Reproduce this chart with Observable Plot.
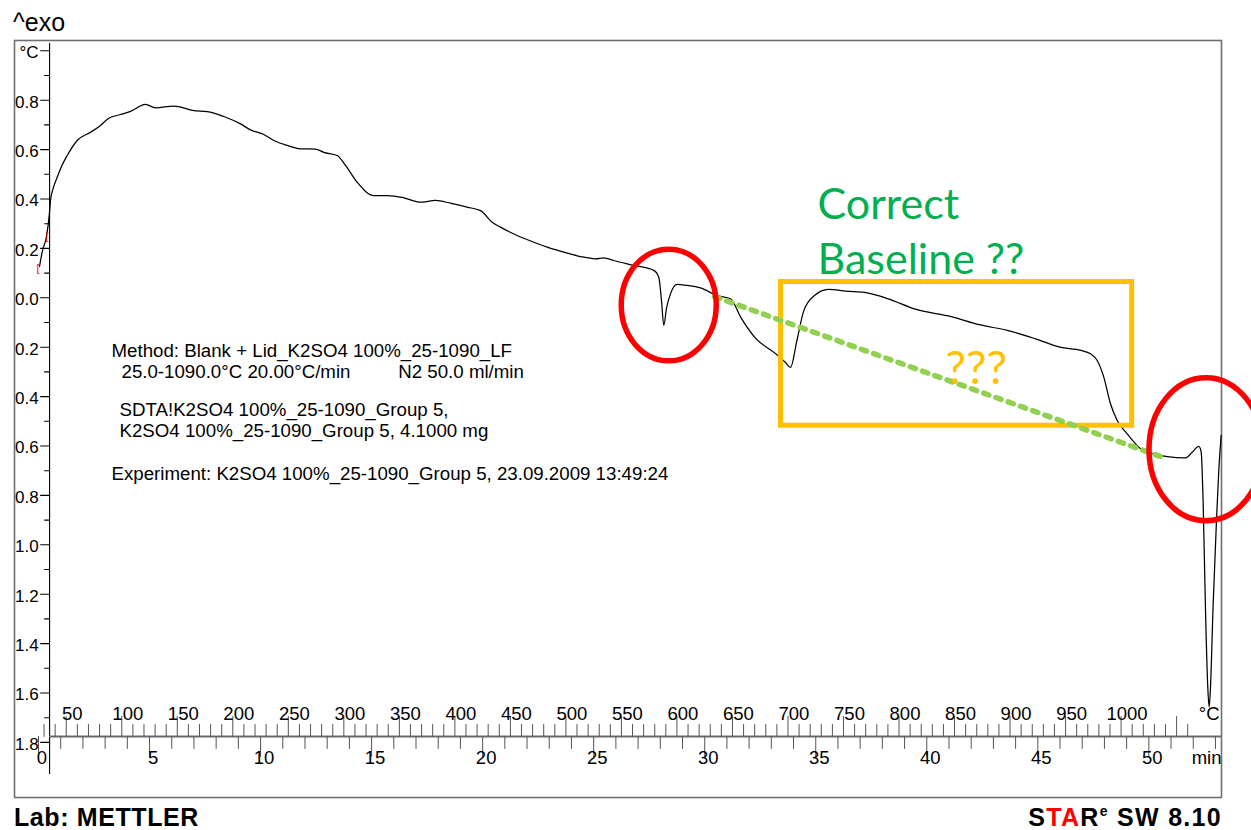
<!DOCTYPE html>
<html>
<head>
<meta charset="utf-8">
<script src="https://cdn.jsdelivr.net/npm/d3@7"></script>
<script src="https://cdn.jsdelivr.net/npm/@observablehq/plot@0.6"></script>
<style>
  html, body { margin: 0; padding: 0; background: #fff; overflow: hidden; }
  #wrap { position: relative; width: 1251px; height: 830px; font-family: "Liberation Sans", Arial, sans-serif; color: #000; }
  #title { position: absolute; left: 13px; top: 7px; font-size: 25px; line-height: 30px; }
  #chart { position: absolute; left: 0; top: 38px; }
  #lab { position: absolute; left: 14px; top: 806px; font-size: 25px; font-weight: bold; line-height: 22px; letter-spacing: 0.6px; }
  #star { position: absolute; right: 29px; top: 806px; font-size: 25px; font-weight: bold; line-height: 22px; letter-spacing: 1.3px; white-space: nowrap; }
  #star .r { color: #ff0000; }
  #star .e { font-size: 14px; position: relative; top: -10px; }
</style>
</head>
<body>
<div id="wrap">
  <div id="title">^exo</div>
  <div id="chart"></div>
  <div id="lab">Lab: METTLER</div>
  <div id="star">S<span class="r">TA</span>R<span class="e">e</span> SW 8.10</div>
</div>
<script>
// ---- measured curve (time in min, SDTA signal in °C) ----
const timeMin = [0.045,0.18,0.36,0.495,0.54,0.675,0.842,1.036,1.292,1.743,2.342,2.792,3.166,3.693,4.143,4.818,5.269,6.093,6.993,7.597,8.344,9.096,9.547,10.146,10.596,11.199,11.798,12.474,12.847,13.451,13.824,14.351,15.099,15.702,16.45,17.202,17.877,18.553,19.305,19.904,20.431,20.804,21.556,22.304,22.907,23.655,24.407,25.082,25.456,25.906,26.807,27.707,27.932,28.054,28.157,28.279,28.459,28.761,29.211,29.811,30.563,31.162,31.625,32.256,33.206,33.638,33.864,34.152,34.467,34.944,35.575,36.362,37.313,38.258,39.524,41.104,42.365,43.63,44.891,45.999,46.944,47.372,47.674,47.971,48.273,48.575,49.025,49.624,50.223,50.826,51.65,51.952,52.249,52.357,52.447,52.545,52.654,52.717,52.776,52.897,53.046,53.15,53.258];
const signal = [0.127,0.191,0.248,0.345,0.394,0.447,0.488,0.532,0.576,0.637,0.670,0.698,0.727,0.742,0.755,0.783,0.769,0.776,0.758,0.754,0.734,0.704,0.680,0.661,0.637,0.617,0.603,0.602,0.589,0.576,0.536,0.468,0.414,0.414,0.405,0.387,0.394,0.383,0.367,0.353,0.306,0.286,0.252,0.225,0.205,0.185,0.167,0.158,0.162,0.151,0.131,0.111,0.083,-0.011,-0.112,-0.043,0.016,0.054,0.050,0.040,0.009,-0.004,-0.079,-0.160,-0.227,-0.262,-0.282,-0.173,-0.051,0.009,0.034,0.027,0.020,-0.004,-0.047,-0.076,-0.109,-0.132,-0.166,-0.200,-0.213,-0.227,-0.254,-0.321,-0.429,-0.497,-0.551,-0.611,-0.632,-0.643,-0.648,-0.625,-0.602,-0.625,-0.834,-1.239,-1.577,-1.657,-1.577,-1.239,-0.902,-0.699,-0.557];

// ---- axes ----
const yMajorTicks = [1.0,0.8,0.6,0.4,0.2,0.0,-0.2,-0.4,-0.6,-0.8,-1.0,-1.2,-1.4,-1.6,-1.8];
const yMinorTicks = [0.9,0.7,0.5,0.3,0.1,-0.1,-0.3,-0.5,-0.7,-0.9,-1.1,-1.3,-1.5,-1.7];
const minuteTicks = [0,5,10,15,20,25,30,35,40,45,50];
const tempTicks = [50,100,150,200,250,300,350,400,450,500,550,600,650,700,750,800,850,900,950,1000];
const startTemp = 25;     // °C
const heatingRate = 20;   // °C/min

// ---- annotation text ----
const infoLines = [
  {text: "Method: Blank + Lid_K2SO4 100%_25-1090_LF", t: 3.287, v: -0.238},
  {text: "25.0-1090.0°C 20.00°C/min", t: 3.737, v: -0.323},
  {text: "N2 50.0 ml/min", t: 16.2, v: -0.323},
  {text: "SDTA!K2SO4 100%_25-1090_Group 5,", t: 3.648, v: -0.477},
  {text: "K2SO4 100%_25-1090_Group 5, 4.1000 mg", t: 3.648, v: -0.562},
  {text: "Experiment: K2SO4 100%_25-1090_Group 5, 23.09.2009 13:49:24", t: 3.287, v: -0.738}
];
const greenLabels = [
  {text: "Correct", t: 35.08, v: 0.321},
  {text: "Baseline ??", t: 35.08, v: 0.098}
];
const questionLabel = [{text: "???", t: 40.84, v: -0.351}];
const baselinePts = [{t: 30.44, v: 0.005}, {t: 50.66, v: -0.647}];
const regionBox = [{t1: 33.436, t2: 49.25, v1: 0.064, v2: -0.518}];
const ellipses = [
  {id: "a", t: 28.38, v: -0.029, rt: 2.139, rv: 0.226},
  {id: "b", t: 52.574, v: -0.613, rt: 2.567, rv: 0.2895}
];
const startMarkers = [{t: -0.023, v: 0.119}, {t: 0.383, v: 0.248}];

// ---- build ----
const curve = timeMin.map((t, i) => ({t, v: signal[i]}));
const ellipsePts = ellipses.flatMap(e => [
  {id: e.id, t: e.t, v: e.v + e.rv},
  {id: e.id, t: e.t + e.rt, v: e.v},
  {id: e.id, t: e.t, v: e.v - e.rv},
  {id: e.id, t: e.t - e.rt, v: e.v}
]);
const toMin = T => (T - startTemp) / heatingRate;
const minuteMinor = d3.range(0, 54, 1);
const tempMinor = d3.range(30, 1061, 10);

const Y_AXIS_T = 0.5;
const X_AXIS_V = -1.776;
const tickShape = {draw(ctx, l) { ctx.moveTo(0, 0); ctx.lineTo(0, -l); }};
const font = "Liberation Sans, Arial, sans-serif";

const chart = Plot.plot({
  width: 1251,
  height: 762,
  marginLeft: 14,
  marginRight: 30,
  marginTop: 2,
  marginBottom: 3,
  x: {domain: [-1.0807, 53.272], axis: null},
  y: {domain: [-2.0231, 1.0417], axis: null},
  style: {fontFamily: font, background: "white", color: "black", overflow: "visible"},
  marks: [
    Plot.frame({stroke: "#6f6f6f", strokeWidth: 1.6}),
    // vertical axis
    Plot.ruleX([Y_AXIS_T], {y1: 1.03, y2: -1.93, stroke: "#000", strokeWidth: 1.1}),
    Plot.vector(yMajorTicks, {x: () => Y_AXIS_T, y: d => d, length: 9, rotate: -90, anchor: "start", shape: tickShape, stroke: "#000", strokeWidth: 1.1}),
    Plot.vector(yMinorTicks, {x: () => Y_AXIS_T, y: d => d, length: 5, rotate: -90, anchor: "start", shape: tickShape, stroke: "#000", strokeWidth: 1.1}),
    Plot.text(yMajorTicks, {x: () => Y_AXIS_T, y: d => d, text: d => d === 1 ? "°C" : Math.abs(d).toFixed(1), textAnchor: "end", dx: -11, dy: 2, fontSize: 17, fill: "#000"}),
    // horizontal axis (min below, °C above)
    Plot.ruleY([X_AXIS_V], {x1: Y_AXIS_T, x2: 53.272, stroke: "#6a6a6a", strokeWidth: 2}),
    Plot.vector(minuteMinor, {x: d => d, y: () => X_AXIS_V, length: d => d % 5 === 0 ? 7.5 : 4.5, rotate: 180, anchor: "start", shape: tickShape, stroke: "#555", strokeWidth: 1}),
    Plot.vector(tempMinor, {x: d => toMin(d), y: () => X_AXIS_V, length: d => d % 50 === 0 ? 7.5 : 4.5, rotate: 0, anchor: "start", shape: tickShape, stroke: "#555", strokeWidth: 1}),
    Plot.text(minuteTicks, {x: d => d, y: () => X_AXIS_V, text: d => String(d), dx: 3.5, dy: 21.5, fontSize: 18.5, fill: "#000"}),
    Plot.text(tempTicks, {x: d => toMin(d), y: () => X_AXIS_V, text: d => String(d), dx: 6, dy: -22, fontSize: 18.5, fill: "#000"}),
    Plot.text(["°C"], {frameAnchor: "right", y: () => X_AXIS_V, textAnchor: "end", dx: -2, dy: -22, fontSize: 18.5, fill: "#000"}),
    Plot.text(["min"], {frameAnchor: "right", y: () => X_AXIS_V, textAnchor: "end", dx: 0, dy: 21.5, fontSize: 18.5, fill: "#000"}),
    // info block
    Plot.text(infoLines, {x: "t", y: "v", text: "text", textAnchor: "start", lineAnchor: "bottom", fontSize: 18.7, fill: "#000"}),
    // measured curve
    Plot.line(curve, {x: "t", y: "v", stroke: "#000", strokeWidth: 1.25, curve: "monotone-x"}),
    Plot.text(startMarkers, {x: "t", y: "v", text: () => "[", fill: "#ff0000", fontSize: 11}),
    // annotations
    Plot.rect(regionBox, {x1: "t1", x2: "t2", y1: "v1", y2: "v2", fill: "none", stroke: "#FFC000", strokeWidth: 5}),
    Plot.line(baselinePts, {x: "t", y: "v", stroke: "#92D050", strokeWidth: 5.5, strokeDasharray: "5.5,7.5"}),
    Plot.line(ellipsePts, {x: "t", y: "v", z: "id", stroke: "#ff0000", strokeWidth: 5.5, curve: d3.curveCardinalClosed.tension(-0.657)}),
    Plot.text(greenLabels, {x: "t", y: "v", text: "text", textAnchor: "start", lineAnchor: "bottom", fontSize: 43, fontFamily: "Lato, Open Sans, sans-serif", fill: "#00B050"}),
    Plot.text(questionLabel, {x: "t", y: "v", text: "text", textAnchor: "start", lineAnchor: "bottom", fontSize: 46, fontFamily: "Lato, Open Sans, sans-serif", fill: "#FFC000"})
  ]
});
document.getElementById("chart").appendChild(chart);
</script>
</body>
</html>
